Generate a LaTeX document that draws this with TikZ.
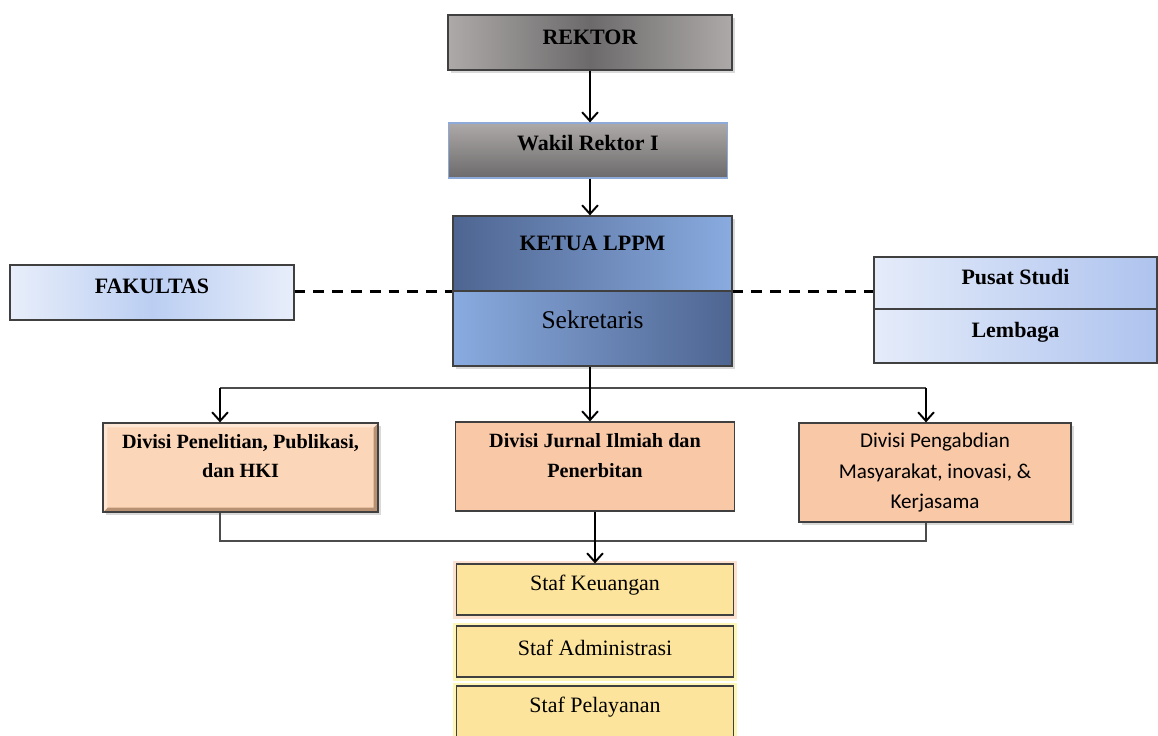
\documentclass[tikz,border=0pt]{standalone}
\usepackage{fontspec}
\setmainfont{Liberation Serif}
\newfontfamily\calibri{Carlito}
\usetikzlibrary{arrows.meta}
\usetikzlibrary{shadows}
\definecolor{greylight}{HTML}{ADA9A8}
\definecolor{greydark}{HTML}{6C6A6B}
\definecolor{bluedark}{HTML}{4E6591}
\definecolor{bluelight}{HTML}{89ABDF}
\definecolor{wakilborder}{HTML}{8EAADB}
\definecolor{fakedge}{HTML}{E8EEFA}
\definecolor{fakmid}{HTML}{BBCEF2}
\definecolor{unitleft}{HTML}{E5ECFA}
\definecolor{unitright}{HTML}{AEC3EE}
\definecolor{peachlight}{HTML}{FCD6B8}
\definecolor{peachshade}{HTML}{B89173}
\definecolor{peachshine}{HTML}{FDE6D3}
\definecolor{peach}{HTML}{F8C8A7}
\definecolor{stafyellow}{HTML}{FDE49C}
\definecolor{gloworange}{HTML}{F8B38A}
\definecolor{glowyellow}{HTML}{FCEE70}
\newcommand{\lifttext}[2]{\raisebox{#1}[\height][\depth]{#2}}
\tikzstyle{orgbox}=[rectangle, draw=black!75, line width=0.7pt,
                    inner sep=2pt, align=center]

\begin{document}
\begin{tikzpicture}[x=0.02cm,y=-0.02cm,>={Straight Barb[length=5pt,width=9pt]}]
  \tikzstyle{head}=[orgbox, font=\bfseries\fontsize{12.5}{15}\selectfont]
  \tikzstyle{softshadow}=[drop shadow={shadow xshift=1.5pt,shadow yshift=-1.5pt,opacity=.3}]
  \tikzstyle{unit}=[head, minimum width=5.66cm, left color=unitleft, right color=unitright]
  \tikzstyle{divisi}=[orgbox, minimum height=1.78cm, font=\bfseries\fontsize{11.5}{17}\selectfont]
  \tikzstyle{staf}=[orgbox, fill=stafyellow, minimum width=5.54cm, minimum height=1.02cm,
                    font=\fontsize{12.5}{15}\selectfont]
  \tikzstyle{link}=[line width=1.1pt]
  \tikzstyle{dashlink}=[line width=1.4pt, dash pattern=on 6.2pt off 4.5pt]
  \tikzstyle{bus}=[line width=0.8pt, gray!60!black]
  \useasboundingbox (0,0) rectangle (1158,735);
  \clip (0,0) rectangle (1158,735);
  \node (rektor) at (590,42.5) [head, softshadow, minimum width=5.68cm, minimum height=1.1cm, left color=greylight, right color=greylight, middle color=greydark] {\lifttext{3pt}{REKTOR}};
  \node (wakil) at (588,150.5) [head, draw=wakilborder, minimum width=5.58cm, minimum height=1.1cm, top color=greylight, bottom color=greydark] {\lifttext{4pt}{Wakil Rektor I}};
  \node (ketua) at (592.5,253.5) [head, softshadow, minimum width=5.58cm, minimum height=1.5cm, left color=bluedark, right color=bluelight] {\lifttext{6pt}{KETUA LPPM}};
  \node (sekretaris) at (592.5,328.5) [orgbox, softshadow, minimum width=5.58cm, minimum height=1.5cm, left color=bluelight, right color=bluedark, font=\fontsize{14.5}{17}\selectfont] {\lifttext{5pt}{Sekretaris}};
  \node (fakultas) at (152,292.5) [head, minimum width=5.68cm, minimum height=1.1cm, left color=fakedge, right color=fakedge, middle color=fakmid] {\lifttext{3.5pt}{FAKULTAS}};
  \node (pusat) at (1015.5,283) [unit, minimum height=1.04cm] {\lifttext{3.4pt}{Pusat Studi}};
  \node (lembaga) at (1015.5,336) [unit, minimum height=1.08cm] {\lifttext{2.3pt}{Lembaga}};
  \node (penelitian) at (240.5,467.5) [divisi, softshadow, minimum width=5.5cm, fill=peachlight,
    path picture={
      \fill[peachshade] (path picture bounding box.south west) -- (path picture bounding box.south east) -- (path picture bounding box.north east) -- ([shift={(-2.5pt,-2.5pt)}]path picture bounding box.north east) -- ([shift={(-2.5pt,2.5pt)}]path picture bounding box.south east) -- ([shift={(2.5pt,2.5pt)}]path picture bounding box.south west) -- cycle;
      \fill[peachshine] (path picture bounding box.south west) -- (path picture bounding box.north west) -- (path picture bounding box.north east) -- ([shift={(-2.5pt,-2.5pt)}]path picture bounding box.north east) -- ([shift={(2.5pt,-2.5pt)}]path picture bounding box.north west) -- ([shift={(2.5pt,2.5pt)}]path picture bounding box.south west) -- cycle;
    }] {\lifttext{6.5pt}{Divisi Penelitian, Publikasi,}\\ \lifttext{6.5pt}{dan HKI}};
  \node (jurnal) at (595,466.5) [divisi, fill=peach, minimum width=5.58cm] {\lifttext{6pt}{Divisi Jurnal Ilmiah dan}\\ \lifttext{6pt}{Penerbitan}};
  \node (pengabdian) at (935,472.5) [orgbox, softshadow, fill=peach, minimum width=5.44cm, minimum height=1.98cm, font=\calibri\fontsize{12}{17.6}\selectfont] {Divisi Pengabdian\\ Masyarakat, inovasi, \&\\ Kerjasama};
  \node (keuangan) at (595,589.5) [staf, preaction={draw=gloworange, line width=4pt, opacity=.4}] {\lifttext{2.6pt}{Staf Keuangan}};
  \node (administrasi) at (595,651.5) [staf, preaction={draw=glowyellow, line width=4pt, opacity=.5}] {\lifttext{2pt}{Staf Administrasi}};
  \node (pelayanan) at (595,716) [staf, minimum height=1.2cm, preaction={draw=glowyellow, line width=4pt, opacity=.5}] {\lifttext{5pt}{Staf Pelayanan}};
  \coordinate (busleft) at (220,388);
  \coordinate (busright) at (926,388);
  \coordinate (lowleft) at (220,541);
  \coordinate (lowright) at (926,541);
  \draw [link,->] (rektor) -- (rektor |- wakil.north);
  \draw [link,->] (wakil.south -| rektor) -- (ketua.north -| rektor);
  \draw [dashlink] (fakultas.east |- ketua.south) -- (ketua.south west);
  \draw [dashlink] (ketua.south east) -- (ketua.south east -| pusat.west);
  \draw [bus] (busleft) -- (busright);
  \draw [link,->] (sekretaris.south -| rektor) -- (jurnal.north -| rektor);
  \draw [link,->] (busleft) -- (busleft |- penelitian.north);
  \draw [link,->] (busright) -- (busright |- pengabdian.north);
  \draw [bus] (lowleft |- penelitian.south) -- (lowleft) -- (lowright) -- (lowright |- pengabdian.south);
  \draw [link,->] (jurnal) -- (keuangan);
\end{tikzpicture}
\end{document}
